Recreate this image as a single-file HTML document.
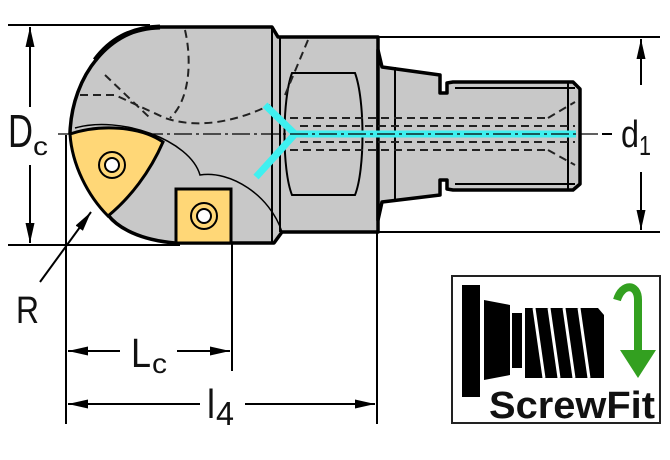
<!DOCTYPE html>
<html><head><style>
html,body{margin:0;padding:0;background:#fff;width:670px;height:460px;overflow:hidden}
svg{display:block}
text{font-family:"Liberation Sans","DejaVu Sans",sans-serif;fill:#111}
</style></head><body>
<svg width="670" height="460" viewBox="0 0 670 460" xmlns="http://www.w3.org/2000/svg">
<defs>
<marker id="a" viewBox="0 0 10 10" refX="10" refY="5" markerWidth="20" markerHeight="9" orient="auto-start-reverse" markerUnits="userSpaceOnUse" preserveAspectRatio="none"><path d="M0,0L10,5L0,10z" fill="#000"/></marker>
</defs>
<g stroke="#000" stroke-width="2" fill="none">
<line x1="8" y1="25" x2="150" y2="25"/>
<line x1="8" y1="245" x2="180" y2="245"/>
<line x1="378" y1="37" x2="660" y2="37"/>
<line x1="378" y1="232" x2="660" y2="232"/>
<line x1="66" y1="135" x2="66" y2="424"/>
<line x1="232" y1="243" x2="232" y2="371"/>
<line x1="377" y1="232" x2="377" y2="424"/>
</g>
<g stroke="#000" stroke-width="3.5" stroke-linejoin="round">
<path d="M70,133 C72,75 110,28 160,27 L272,27 L278,37 L378,37 L378,232 L282,232 L274,243 L175,243 C140,240 118,228 108,215 Z" fill="#c8c8c8"/>
<path d="M378,50 L382,67 L440,75 L440,93 L447,93 L447,83 L453,82 L573,82 L580,89 L580,184 L573,190 L453,190 L447,189 L447,180 L440,180 L440,195 L382,202 L378,220 Z" fill="#c8c8c8"/>
</g>
<path d="M95,60 C110,40 130,28 160,27" stroke="#000" stroke-width="5" fill="none"/>
<g stroke="#000" stroke-width="2" fill="none">
<line x1="272" y1="27" x2="272" y2="243"/>
<line x1="280" y1="37" x2="280" y2="232"/>
<path d="M292,73 L355,73 C365,100 365,170 355,195 L292,195 C282,170 282,100 292,73 Z"/>
<line x1="455" y1="88" x2="575" y2="88"/><line x1="455" y1="184" x2="575" y2="184"/>
<line x1="568" y1="82" x2="568" y2="190"/>
<line x1="395" y1="67" x2="395" y2="202"/>
<path d="M75,128 C120,115 190,140 200,175 C230,170 270,195 282,232" stroke-width="1.5"/>
</g>
<g stroke="#222" stroke-width="2" fill="none" stroke-dasharray="8,5">
<path d="M185,30 C192,60 190,100 170,118"/>
<path d="M80,95 L115,95 L165,118 C200,130 240,120 270,105"/>
<path d="M105,75 L150,118"/>
<path d="M308,40 L285,95"/>
<line x1="290" y1="118" x2="545" y2="118"/><line x1="290" y1="150" x2="545" y2="150"/>
<line x1="300" y1="126" x2="575" y2="126"/><line x1="300" y1="142" x2="575" y2="142"/>
<path d="M548,118 L575,102 M548,150 L575,165"/>
</g>
<g stroke="#3ff0f0" stroke-width="7" fill="none" stroke-linejoin="round">
<path d="M265,105 L295,134 L256,177"/>
<line x1="295" y1="134" x2="576" y2="134"/>
</g>
<line x1="58" y1="134" x2="612" y2="134" stroke="#000" stroke-width="1.2" stroke-dasharray="18,4,3,4"/>
<path d="M70,134 C100,124 140,126 163,142 C150,172 130,198 108,216 C88,196 72,165 70,134 Z" fill="#ffd777" stroke="#000" stroke-width="3"/>
<circle cx="112" cy="165" r="13" fill="none" stroke="#000" stroke-width="2"/>
<circle cx="112" cy="165" r="7" fill="#fff" stroke="#000" stroke-width="2"/>
<rect x="176" y="189" width="55" height="54" fill="#ffd777" stroke="#000" stroke-width="3"/>
<circle cx="204" cy="216" r="13" fill="none" stroke="#000" stroke-width="2"/>
<circle cx="204" cy="216" r="7" fill="#fff" stroke="#000" stroke-width="2"/>
<g stroke="#000" stroke-width="2" fill="none">
<line x1="30" y1="107" x2="30" y2="27" marker-end="url(#a)"/>
<line x1="30" y1="165" x2="30" y2="243" marker-end="url(#a)"/>
<line x1="641" y1="85" x2="641" y2="39" marker-end="url(#a)"/>
<line x1="641" y1="172" x2="641" y2="230" marker-end="url(#a)"/>
<line x1="602" y1="134" x2="612" y2="134"/>
<line x1="120" y1="351" x2="68" y2="351" marker-end="url(#a)"/>
<line x1="177" y1="351" x2="230" y2="351" marker-end="url(#a)"/>
<line x1="200" y1="404" x2="68" y2="404" marker-end="url(#a)"/>
<line x1="245" y1="404" x2="375" y2="404" marker-end="url(#a)"/>
<line x1="40" y1="282" x2="91" y2="212" marker-end="url(#a)"/>
</g>
<text x="8" y="147" font-size="46" textLength="25" lengthAdjust="spacingAndGlyphs">D</text><text x="33" y="155" font-size="26" textLength="15" lengthAdjust="spacingAndGlyphs">c</text>
<text x="621" y="147" font-size="38" textLength="18" lengthAdjust="spacingAndGlyphs">d</text><text x="639" y="155" font-size="28" textLength="12" lengthAdjust="spacingAndGlyphs">1</text>
<text x="16" y="323" font-size="38" textLength="23" lengthAdjust="spacingAndGlyphs">R</text>
<text x="131" y="367" font-size="41" textLength="20" lengthAdjust="spacingAndGlyphs">L</text><text x="152" y="373" font-size="28" textLength="15" lengthAdjust="spacingAndGlyphs">c</text>
<text x="207" y="418" font-size="41" textLength="8" lengthAdjust="spacingAndGlyphs">l</text><text x="216" y="425" font-size="33" textLength="18" lengthAdjust="spacingAndGlyphs">4</text>
<rect x="452" y="276" width="208" height="147" fill="#fff" stroke="#222" stroke-width="2"/>
<rect x="462" y="285" width="18" height="112" fill="#000"/>
<path d="M484,300 L510,305 L510,375 L484,380 Z" fill="#000"/>
<rect x="512" y="313" width="10" height="55" fill="#000"/>
<path d="M525,308 L598,308 L604,315 L604,378 L525,378 Z" fill="#000"/>
<g stroke="#fff" stroke-width="3"><line x1="534" y1="308" x2="544" y2="378"/><line x1="549" y1="308" x2="559" y2="378"/><line x1="564" y1="308" x2="574" y2="378"/><line x1="579" y1="308" x2="589" y2="378"/></g>
<path d="M617,300 C622,283 638,283 638,300 L638,350" stroke="#33a020" stroke-width="8" fill="none"/>
<path d="M620,350 L656,350 L638,378 Z" fill="#33a020"/>
<text x="489" y="418" font-size="38" font-family="DejaVu Sans" font-weight="bold" fill="#111" textLength="166" lengthAdjust="spacingAndGlyphs">ScrewFit</text>
</svg>
</body></html>
